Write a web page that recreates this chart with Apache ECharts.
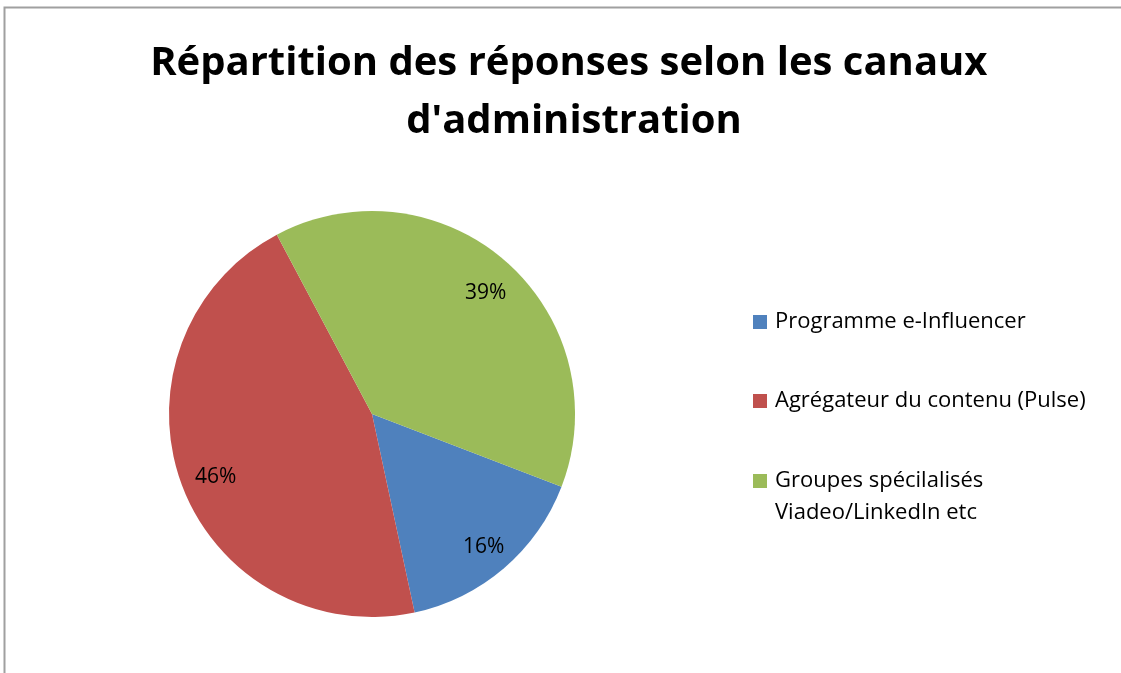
<!DOCTYPE html>
<html>
<head>
<meta charset="utf-8">
<script src="https://cdn.jsdelivr.net/npm/echarts@6/dist/echarts.min.js"></script>
<style>
  html, body { margin: 0; padding: 0; background: #fff; }
  #chart { width: 1121px; height: 673px; }
</style>
</head>
<body>
<div id="chart"></div>
<script>
  // data (slice angles), labels shown rounded
  var canaux = ['Programme e-Influencer', 'Agrégateur du contenu (Pulse)', 'Groupes spécilalisés\nViadeo/LinkedIn etc'];
  var parts = [15.8, 45.6, 38.6];
  var couleurs = ['#4F81BD', '#C0504D', '#9BBB59'];

  var font = '"Open Sans", sans-serif';
  var pieData = canaux.map(function (n, i) {
    return { name: n, value: parts[i], itemStyle: { color: couleurs[i] } };
  });

  // one legend per entry so the two-line one can keep its square on the first line
  var legendTops = [301, 380, 428];
  var legends = canaux.map(function (n, i) {
    return {
      data: [n],
      orient: 'vertical',
      left: 748,
      top: legendTops[i],
      itemWidth: 14,
      itemHeight: 14,
      itemGap: 0,
      icon: 'rect',
      selectedMode: false,
      formatter: function (name) {
        return name.indexOf('\n') >= 0 ? ' \n' + name : name;
      },
      textStyle: { fontFamily: font, fontSize: 22, color: '#000', lineHeight: 32, padding: [0, 0, 0, 3] }
    };
  });

  var chart = echarts.init(document.getElementById('chart'));
  chart.setOption({
    animation: false,
    title: {
      text: "Répartition des réponses selon les canaux d'administration",
      left: 569,
      top: 30,
      textAlign: 'center',
      textStyle: {
        fontFamily: font, fontSize: 40, fontWeight: 'bold', color: '#000',
        lineHeight: 58, width: 900, overflow: 'break'
      }
    },
    legend: legends,
    graphic: [{
      type: 'rect',
      shape: { x: 4.5, y: 7.5, width: 1300, height: 1000 },
      style: { fill: 'none', stroke: '#a0a0a0', lineWidth: 2 },
      silent: true
    }],
    series: [
      {
        type: 'pie',
        center: [372, 414],
        radius: [0, 203],
        startAngle: -21,
        clockwise: true,
        data: pieData,
        label: { show: false },
        labelLine: { show: false },
        emphasis: { disabled: true }
      },
      {
        // transparent ring used only to place the percent labels
        type: 'pie',
        center: [372, 414],
        radius: [128, 203],
        startAngle: -21,
        clockwise: true,
        silent: true,
        data: pieData.map(function (d) { return { name: d.name, value: d.value }; }),
        itemStyle: { color: 'rgba(0,0,0,0)' },
        label: {
          show: true,
          position: 'inside',
          fontFamily: font,
          fontSize: 21,
          color: '#000',
          offset: [2, 5],
          formatter: function (p) { return Math.round(p.percent) + '%'; }
        },
        labelLine: { show: false },
        emphasis: { disabled: true }
      }
    ]
  });
</script>
</body>
</html>
